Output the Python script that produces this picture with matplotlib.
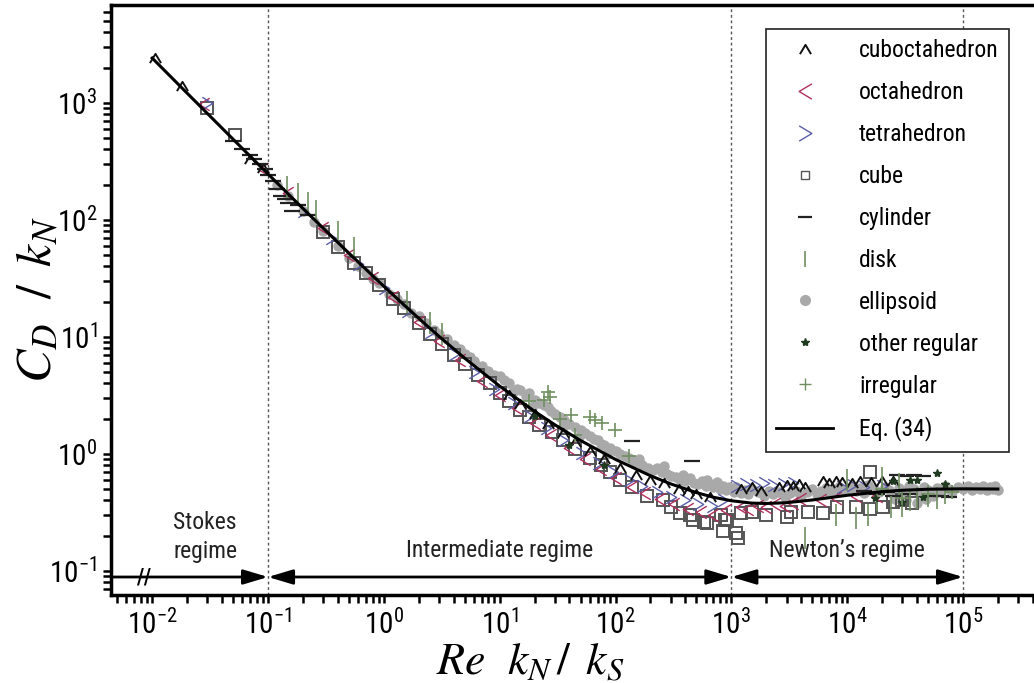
import numpy as np
import matplotlib
matplotlib.use("Agg")
import matplotlib.pyplot as plt
from matplotlib import font_manager as fm
from matplotlib.path import Path
from matplotlib.lines import Line2D
from matplotlib.ticker import LogLocator, FuncFormatter, NullFormatter

# pick a condensed sans font if one is installed
_cands = []
for _f in fm.fontManager.ttflist:
    _st = _f.stretch
    _cond = ('Narrow' in _f.name) or ('Condensed' in _f.name) or \
            (_st in ('condensed', 'semi-condensed', 'extra-condensed', 'ultra-condensed')) or \
            (isinstance(_st, (int, float)) and _st < 500)
    if _cond and _f.style == 'normal' and _f.weight in (400, 'normal', 'regular'):
        _cands.append((_f.name, _st))
_font_name, _font_stretch = 'Roboto', 'normal'
for _pref in ['Roboto Condensed', 'Open Sans', 'Noto Sans', 'Liberation Sans Narrow', 'DejaVu Sans']:
    _hit = [c for c in _cands if c[0].startswith(_pref)]
    if _hit:
        _font_name, _font_stretch = _hit[0]
        break
plt.rcParams['font.family'] = [_font_name, 'Roboto', 'DejaVu Sans']
plt.rcParams['font.stretch'] = _font_stretch
plt.rcParams['mathtext.fontset'] = 'stix'

# ---------------- data ----------------
eq_x = [0.01, 0.02, 0.05, 0.1, 0.2, 0.5, 1, 2, 3, 5, 10, 20, 30, 50, 100, 200, 300, 500, 700,
        1000, 1500, 2000, 3000, 5000, 1e4, 2e4, 3e4, 5e4, 1e5, 2e5]
eq_y = [2414, 1211, 488, 246.5, 125.1, 51.8, 27.0, 14.38, 10.08, 6.55, 3.79, 2.307, 1.768, 1.298,
        0.895, 0.650, 0.553, 0.466, 0.425, 0.397, 0.379, 0.376, 0.382, 0.403, 0.442, 0.475, 0.488,
        0.498, 0.502, 0.500]

cuboctahedron = [(0.0105, 2414), (0.018, 1380), (0.07, 330), (0.09, 280), (12, 3.2), (15, 2.65),
                 (20, 2.2), (26, 1.8), (35, 1.5), (45, 1.25), (60, 1.05), (80, 0.9), (110, 0.76),
                 (150, 0.66), (200, 0.6), (260, 0.56), (350, 0.5), (420, 0.48), (500, 0.45),
                 (650, 0.43), (1200, 0.5), (1500, 0.52), (1800, 0.48), (2600, 0.52), (3000, 0.54),
                 (3400, 0.53), (3800, 0.55), (4300, 0.52), (6200, 0.58), (7000, 0.56), (8000, 0.58),
                 (9000, 0.57), (1.1e4, 0.56), (1.3e4, 0.58), (1.6e4, 0.57), (2e4, 0.58), (2.5e4, 0.59)]

octahedron = [(0.028, 980), (0.09, 270), (0.15, 170), (0.3, 85), (0.5, 50), (0.8, 32), (1.2, 22),
              (2, 13.5), (3, 9.2), (4.5, 6.3), (7, 4.2), (10, 3.2), (14, 2.45), (20, 1.85),
              (28, 1.45), (40, 1.12), (55, 0.9), (75, 0.74), (100, 0.62), (140, 0.52), (180, 0.46),
              (240, 0.41), (320, 0.37), (420, 0.34), (550, 0.32), (700, 0.30), (900, 0.33),
              (1200, 0.35), (1400, 0.34), (1700, 0.36), (2000, 0.35), (2400, 0.37), (2900, 0.36),
              (3400, 0.38), (4000, 0.41), (6000, 0.40), (8000, 0.42), (1.2e4, 0.44), (1.8e4, 0.44)]

tetrahedron = [(0.03, 1000), (0.2, 120), (0.35, 70), (0.6, 42), (1.0, 26), (1.6, 16.5), (2.5, 11),
               (4, 7.2), (6, 5.0), (9, 3.6), (13, 2.7), (18, 2.1), (25, 1.65), (35, 1.3), (50, 1.02),
               (70, 0.83), (95, 0.7), (130, 0.6), (170, 0.53), (230, 0.47), (300, 0.43), (400, 0.40),
               (520, 0.37), (680, 0.36), (850, 0.40), (1100, 0.53), (1300, 0.55), (1600, 0.54),
               (1900, 0.56), (2300, 0.54), (2800, 0.55), (3400, 0.56), (9000, 0.52), (1.1e4, 0.54),
               (1.4e4, 0.52), (2e4, 0.53)]

cube = [(0.03, 900), (0.052, 530), (0.3, 78), (0.4, 59), (0.55, 43), (0.7, 35), (0.9, 28), (1.2, 21),
        (1.5, 17.5), (2.0, 13.0), (2.5, 10.6), (3.2, 8.6), (4.0, 7.0), (5.0, 5.8), (6.5, 4.7),
        (8.3, 4.0), (10, 3.3), (12, 2.85), (15, 2.37), (18, 2.05), (22, 1.75), (28.5, 1.53),
        (35, 1.3), (45, 1.1), (60, 0.92), (75, 0.8), (90, 0.7), (110, 0.6), (140, 0.52), (188, 0.44),
        (257, 0.4), (300, 0.35), (363, 0.31), (440, 0.3), (465, 0.27), (580, 0.26), (620, 0.255),
        (810, 0.3), (850, 0.22), (880, 0.27), (920, 0.27), (1090, 0.21), (1150, 0.19), (1200, 0.31),
        (1500, 0.32), (2000, 0.3), (3000, 0.29), (3300, 0.32), (4600, 0.32), (6200, 0.31),
        (8100, 0.35), (1.2e4, 0.35), (1.57e4, 0.34), (1.57e4, 0.70), (2.05e4, 0.35), (2.5e4, 0.39),
        (3e4, 0.4), (3.6e4, 0.38)]

cylinder = [(0.05, 470), (0.06, 400), (0.07, 360), (0.075, 330), (0.085, 300), (0.095, 270),
            (0.1, 240), (0.11, 215), (0.12, 185), (0.13, 160), (0.14, 150), (0.15, 140), (0.16, 120),
            (0.18, 135), (0.22, 110), (140, 1.28), (460, 0.87), (1.4e4, 0.48), (1.8e4, 0.45),
            (2.2e4, 0.47), (2.5e4, 0.44), (2.7e4, 0.66), (3.2e4, 0.64), (3.5e4, 0.45), (3.8e4, 0.66),
            (4.5e4, 0.65), (5.5e4, 0.44), (6.5e4, 0.44), (7.5e4, 0.43)]

disk = [(0.146, 190), (0.18, 165), (0.22, 140), (0.26, 118), (0.4, 78), (0.55, 57), (1.6, 20),
        (2.5, 13.2), (3.2, 10.5), (4300, 0.19), (8000, 0.3), (1e4, 0.6), (1.2e4, 0.28), (1.5e4, 0.3),
        (1.8e4, 0.4), (2e4, 0.62), (2.4e4, 0.35), (2.8e4, 0.55), (3e4, 0.36), (3.5e4, 0.4),
        (4e4, 0.42), (5e4, 0.44), (6e4, 0.42), (7e4, 0.46)]

ellipsoid = [(0.12, 200), (0.15, 160), (0.2, 118), (0.25, 96), (0.3, 80), (0.4, 60), (0.5, 47),
             (0.6, 40), (0.7, 35), (0.8, 31), (0.9, 29), (1.1, 23), (1.3, 21), (1.5, 19), (1.7, 16),
             (2.0, 15), (2.3, 13), (2.7, 11.5), (3.0, 10.5), (3.5, 9.5), (4.0, 8.5), (4.5, 7.8),
             (5, 7.2), (5.5, 6.7), (6, 6.2), (7, 5.6), (8, 5.1), (9, 4.7), (10, 4.6), (11, 4.3),
             (12, 4.0), (13, 3.4), (14, 3.6), (15, 3.5), (17, 3.1), (18, 3.3), (19, 2.5), (20, 2.9),
             (22, 2.7), (24, 2.6), (26, 2.5), (28, 2.3), (30, 2.2), (33, 2.05), (35, 1.7),
             (36, 1.95), (40, 1.8), (45, 1.7), (48, 1.4), (50, 1.6), (55, 1.5), (60, 1.42),
             (65, 1.35), (70, 1.3), (75, 1.22), (80, 1.18), (85, 1.0), (90, 1.12), (100, 1.05),
             (110, 1.0), (120, 0.95), (130, 0.92), (140, 0.88), (150, 0.85), (160, 0.9), (170, 0.8),
             (190, 0.76), (210, 0.72), (230, 0.75), (250, 0.7), (260, 0.78), (280, 0.67),
             (300, 0.65), (330, 0.63), (360, 0.6), (380, 0.66), (400, 0.58), (440, 0.62),
             (480, 0.56), (520, 0.55), (560, 0.58), (600, 0.53), (620, 0.6), (650, 0.55),
             (700, 0.52), (750, 0.57), (800, 0.5), (850, 0.53), (900, 0.49), (950, 0.52),
             (1000, 0.5), (1050, 0.47), (1100, 0.52), (1200, 0.46), (1300, 0.49), (1400, 0.45),
             (1500, 0.5), (1700, 0.47), (1900, 0.44), (2100, 0.48), (2300, 0.45), (2600, 0.47),
             (2900, 0.43), (3200, 0.46), (3600, 0.48), (4000, 0.44), (4500, 0.47), (5000, 0.5),
             (5500, 0.45), (6000, 0.48), (6500, 0.51), (7000, 0.46), (7500, 0.5), (8000, 0.47),
             (8500, 0.52), (9000, 0.49), (1e4, 0.5), (1.1e4, 0.53), (1.2e4, 0.48), (1.3e4, 0.51),
             (1.4e4, 0.46), (1.5e4, 0.54), (1.7e4, 0.5), (1.9e4, 0.47), (2.1e4, 0.52), (2.3e4, 0.49),
             (2.5e4, 0.45), (2.6e4, 0.41), (2.8e4, 0.51), (3.1e4, 0.48), (3.2e4, 0.4), (3.4e4, 0.53),
             (3.8e4, 0.5), (4e4, 0.38), (4.2e4, 0.46), (4.6e4, 0.52), (4.8e4, 0.41), (5e4, 0.49),
             (5.5e4, 0.44), (6e4, 0.51), (6.5e4, 0.48), (7e4, 0.53), (7.5e4, 0.5), (8e4, 0.47),
             (9e4, 0.52), (1e5, 0.5), (1.1e5, 0.53), (1.2e5, 0.49), (1.3e5, 0.52), (1.4e5, 0.5),
             (1.5e5, 0.53), (1.6e5, 0.49), (1.7e5, 0.52), (1.8e5, 0.5), (1.9e5, 0.53), (2e5, 0.49)]

other_regular = [(20, 2.1), (40, 1.2), (80, 0.8), (1.75e4, 0.42), (2.5e4, 0.58), (3e4, 0.39),
                 (3.5e4, 0.6), (4e4, 0.6), (4.5e4, 0.43), (6e4, 0.68), (7e4, 0.55)]

irregular = [(18, 2.8), (24, 2.9), (26, 3.37), (27, 3.06), (33, 2.0), (41, 2.15), (45, 1.45),
             (60, 2.06), (66, 1.95), (76, 1.83), (99, 1.6), (130, 0.95), (2e4, 0.5), (3e4, 0.42),
             (5e4, 0.45), (8e4, 0.47)]

regime_bounds = [0.1, 1e3, 1e5]
regime_labels = ["Stokes\nregime", "Intermediate regime", "Newton\u2019s regime"]

# ---------------- figure ----------------
fig = plt.figure(figsize=(10.34, 6.83), dpi=100)
ax = fig.add_axes([111/1034, 1-595/683, 1-111/1034, (595-5)/683])
ax.set_xscale('log')
ax.set_yscale('log')
ax.set_xlim(0.00441, 4.1e5)
ax.set_ylim(0.0621, 6860)

caret_up = Path([(-0.6, -0.5), (0, 0.5), (0.6, -0.5)], [Path.MOVETO, Path.LINETO, Path.LINETO])
chev_left = Path([(0.5, 0.6), (-0.5, 0), (0.5, -0.6)], [Path.MOVETO, Path.LINETO, Path.LINETO])
chev_right = Path([(-0.5, 0.6), (0.5, 0), (-0.5, -0.6)], [Path.MOVETO, Path.LINETO, Path.LINETO])

c_oct = '#b0305e'
c_tet = '#5b5ea8'
c_cube = '#555555'
c_ell = '#a9a9a9'
c_green = '#6f8f60'
c_other = '#1f3a1f'

def xy(pts):
    a = np.array(pts, dtype=float)
    return a[:, 0], a[:, 1]

x, y = xy(ellipsoid)
ax.plot(x, y, ls='none', marker='o', ms=6.5, mfc=c_ell, mec=c_ell, zorder=2)
x, y = xy(cube)
ax.plot(x, y, ls='none', marker='s', ms=8, mfc='none', mec=c_cube, mew=1.4, zorder=3)
x, y = xy(octahedron)
ax.plot(x, y, ls='none', marker=chev_left, ms=9, mfc='none', mec=c_oct, mew=1.0, zorder=3)
x, y = xy(tetrahedron)
ax.plot(x, y, ls='none', marker=chev_right, ms=9, mfc='none', mec=c_tet, mew=1.0, zorder=3)
x, y = xy(cuboctahedron)
ax.plot(x, y, ls='none', marker=caret_up, ms=8, mfc='none', mec='#111111', mew=1.4, zorder=4)
x, y = xy(cylinder)
ax.plot(x, y, ls='none', marker='_', ms=12, mec='#222222', mew=1.6, zorder=4)
x, y = xy(disk)
ax.plot(x, y, ls='none', marker='|', ms=16, mec=c_green, mew=1.2, zorder=4)
x, y = xy(other_regular)
ax.plot(x, y, ls='none', marker='*', ms=6, mfc=c_other, mec=c_other, zorder=4)
x, y = xy(irregular)
ax.plot(x, y, ls='none', marker='+', ms=10, mec=c_green, mew=1.2, zorder=4)

ax.plot(eq_x, eq_y, color='black', lw=2.2, zorder=5)

for b in regime_bounds:
    ax.axvline(b, color='#555555', lw=1, ls=(0, (2, 2)), zorder=1)

ya = 0.0885
aprops = dict(lw=2, color='black', mutation_scale=15, shrinkA=0, shrinkB=0)
ax.annotate('', xy=(regime_bounds[0], ya), xytext=(0.0046, ya),
            arrowprops=dict(arrowstyle='-|>,head_length=1.0,head_width=0.3', **aprops))
ax.annotate('', xy=(regime_bounds[1], ya), xytext=(regime_bounds[0], ya),
            arrowprops=dict(arrowstyle='<|-|>,head_length=1.0,head_width=0.3', **aprops))
ax.annotate('', xy=(regime_bounds[2], ya), xytext=(regime_bounds[1], ya),
            arrowprops=dict(arrowstyle='<|-|>,head_length=1.0,head_width=0.3', **aprops))
ax.text(0.0085, ya, '//', fontsize=15, fontweight='bold', ha='center', va='center',
        family='DejaVu Sans')

ax.text(0.0286, 0.195, regime_labels[0], fontsize=17, ha='center', va='center',
        linespacing=1.3, color='#222222')
ax.text(10, 0.148, regime_labels[1], fontsize=17, ha='center', va='center', color='#222222')
ax.text(1e4, 0.148, regime_labels[2], fontsize=17, ha='center', va='center', color='#222222')

for s in ['left', 'bottom', 'top']:
    ax.spines[s].set_linewidth(2.5)
ax.spines['right'].set_visible(False)

fmt = FuncFormatter(lambda v, p: r'$\mathregular{10^{%d}}$' % int(round(np.log10(v))))
for axis in (ax.xaxis, ax.yaxis):
    axis.set_major_locator(LogLocator(base=10, numticks=20))
    axis.set_minor_locator(LogLocator(base=10, subs=np.arange(2, 10), numticks=20))
    axis.set_major_formatter(fmt)
    axis.set_minor_formatter(NullFormatter())
ax.tick_params(which='both', direction='out', length=6, width=1.8, top=False, right=False)
ax.tick_params(which='major', labelsize=21, pad=4)

ax.set_xlabel(r'$Re\ \ k_N\,/\ \,k_S$', fontsize=33)
ax.xaxis.set_label_coords((530 - 111) / 923, -0.076)
ax.set_ylabel(r'$C_D\ \ /\ \,k_N$', fontsize=36)
ax.yaxis.set_label_coords(-0.054, 0.5)

handles = [
    Line2D([], [], ls='none', marker=caret_up, ms=8, mfc='none', mec='#111111', mew=1.4),
    Line2D([], [], ls='none', marker=chev_left, ms=11, mfc='none', mec=c_oct, mew=1.0),
    Line2D([], [], ls='none', marker=chev_right, ms=11, mfc='none', mec=c_tet, mew=1.0),
    Line2D([], [], ls='none', marker='s', ms=6, mfc='none', mec=c_cube, mew=1.0),
    Line2D([], [], ls='none', marker='_', ms=10, mec='#222222', mew=1.6),
    Line2D([], [], ls='none', marker='|', ms=12, mec=c_green, mew=1.2),
    Line2D([], [], ls='none', marker='o', ms=7, mfc=c_ell, mec=c_ell),
    Line2D([], [], ls='none', marker='*', ms=6, mfc=c_other, mec=c_other),
    Line2D([], [], ls='none', marker='+', ms=9, mec=c_green, mew=1.0),
    Line2D([], [], color='black', lw=2),
]
labels = ['cuboctahedron', 'octahedron', 'tetrahedron', 'cube', 'cylinder', 'disk', 'ellipsoid',
          'other regular', 'irregular', 'Eq. (34)']
leg = ax.legend(handles, labels, loc='upper right', bbox_to_anchor=(1021/1034, 1-17/683),
                bbox_transform=fig.transFigure, fontsize=17, frameon=True, fancybox=False,
                edgecolor='#222222', framealpha=1, handlelength=2.4, handletextpad=1.1,
                labelspacing=0.8, borderpad=0.45)
leg.get_frame().set_linewidth(1.2)

fig.savefig('out.png', dpi=100)
